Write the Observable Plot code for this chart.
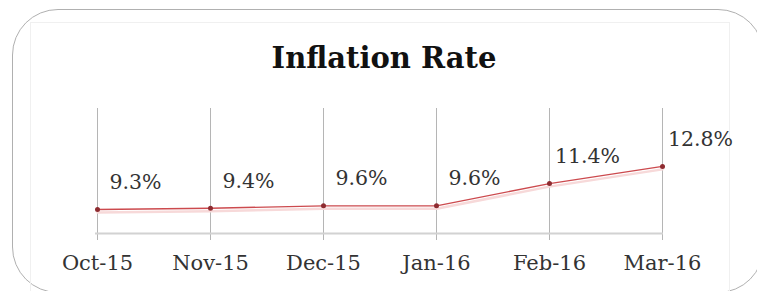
<!DOCTYPE html>
<html>
<head>
<meta charset="utf-8">
<script src="https://cdn.jsdelivr.net/npm/d3@7"></script>
<script src="https://cdn.jsdelivr.net/npm/@observablehq/plot@0.6"></script>
<style>
  html, body { margin: 0; padding: 0; background: #fff; }
  #wrap { position: relative; width: 757px; height: 291px; overflow: hidden; background: #fff; }
  #frame { position: absolute; left: 12px; top: 9px; width: 752px; height: 284px;
           border: 1.5px solid #b0b0b0; border-radius: 46px; box-sizing: border-box; }
  #inner { position: absolute; left: 30px; top: 22px; width: 700px; height: 280px;
           border: 1px solid #f0f0f0; box-sizing: border-box; }
  #title { position: absolute; left: 0; top: 44px; width: 768px; text-align: center;
           font-family: "DejaVu Serif", serif; font-weight: bold; font-size: 29px; line-height: 1;
           color: #111; }
  #chart { position: absolute; left: 0; top: 0; }
</style>
</head>
<body>
<div id="wrap">
  <div id="frame"></div>
  <div id="inner"></div>
  <div id="title">Inflation Rate</div>
  <div id="chart"></div>
</div>
<script>
const months = ["Oct-15", "Nov-15", "Dec-15", "Jan-16", "Feb-16", "Mar-16"];
const rates = [9.3, 9.4, 9.6, 9.6, 11.4, 12.8];
const rateLabels = ["9.3%", "9.4%", "9.6%", "9.6%", "11.4%", "12.8%"];

const data = months.map((m, i) => ({month: m, rate: rates[i], label: rateLabels[i]}));
const yMin = 7.35, yMax = 17.5;

const plot = Plot.plot({
  width: 757,
  height: 291,
  marginLeft: 95,
  marginRight: 94,
  marginTop: 108,
  marginBottom: 58,
  style: {background: "transparent", fontFamily: "DejaVu Serif, serif", color: "#333"},
  x: {type: "point", domain: months, padding: 0, label: null},
  y: {domain: [yMin, yMax], axis: null},
  marks: [
    Plot.ruleX(months, {stroke: "#b5b5b5", strokeWidth: 1, insetBottom: -7}),
    Plot.ruleY([yMin], {stroke: "#d2d2d2", strokeWidth: 2}),
    Plot.line(data, {x: "month", y: "rate", stroke: "#f7d9d9", strokeWidth: 2.5, dy: 3}),
    Plot.line(data, {x: "month", y: "rate", stroke: "#cc4a4e", strokeWidth: 1.3}),
    Plot.dot(data, {x: "month", y: "rate", r: 2.5, fill: "#8e2b30", stroke: "none"}),
    Plot.text(data, {x: "month", y: "rate", text: "label", dx: 38, dy: -27, fontSize: 20.5, fill: "#333"}),
    Plot.axisX({tickSize: 0, tickPadding: 22, fontSize: 21, fill: "#333", label: null})
  ]
});
document.getElementById("chart").appendChild(plot);
</script>
</body>
</html>
